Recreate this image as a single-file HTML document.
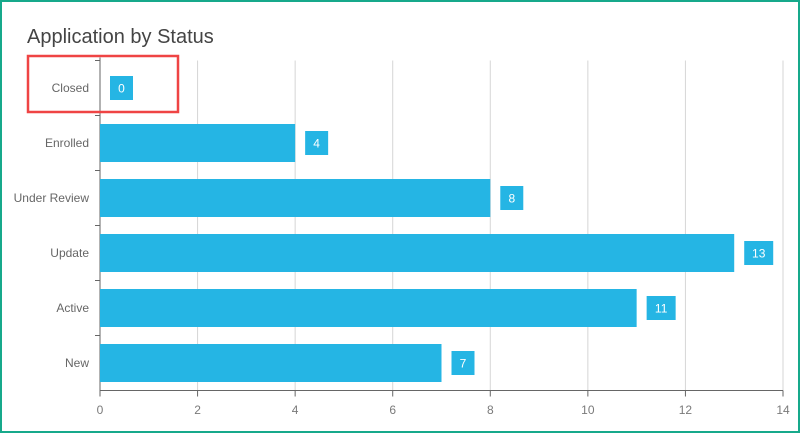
<!DOCTYPE html>
<html><head><meta charset="utf-8"><style>
html,body{margin:0;padding:0;background:#fff;}
#wrap{position:relative;width:796px;height:429px;border:2px solid #17a98b;overflow:hidden;font-family:"Liberation Sans",sans-serif;}
#title{position:absolute;left:25px;top:24px;font-size:20px;color:#444;}
svg{position:absolute;left:0;top:0;}
</style></head><body>
<div id="wrap">
<div id="title">Application by Status</div>
<svg id="chart" width="796" height="429"></svg>
</div>
<script>
const categories=["Closed","Enrolled","Under Review","Update","Active","New"];
const values=[0,4,8,13,11,7];
const ticks=[0,2,4,6,8,10,12,14];
const NS="http://www.w3.org/2000/svg";
const svg=document.getElementById('chart');
const ox=-2,oy=-2;
const x0=100,x1=783,plotTop=60.5,plotBottom=390.5,xmax=14;
const xs=v=>x0+(x1-x0)*v/xmax+ox;
const band=(plotBottom-plotTop)/categories.length;
const yc=i=>plotTop+band*(i+0.5)+oy;
function mk(t,a){const e=document.createElementNS(NS,t);for(const k in a)e.setAttribute(k,a[k]);svg.appendChild(e);return e;}
ticks.forEach(t=>{
 if(t>0){const g=mk('line',{x1:xs(t),x2:xs(t),y1:plotTop+oy,y2:plotBottom+oy,stroke:'#d6d6d6','stroke-width':1});
 
 }
 const tk=mk('line',{x1:xs(t),x2:xs(t),y1:plotBottom+oy,y2:plotBottom+oy+6,stroke:'#666'});
 
 
 const tl=mk('text',{x:xs(t),y:414+oy,'text-anchor':'middle','font-size':12,fill:'#7a7a7a'});
 tl.textContent=t;
 
 
});
const ax=mk('line',{x1:x0+ox,x2:x1+ox,y1:plotBottom+oy,y2:plotBottom+oy,stroke:'#666'});


const ay=mk('line',{x1:x0+ox,x2:x0+ox,y1:plotTop-3+oy,y2:plotBottom+oy,stroke:'#666'});


categories.forEach((c,i)=>{
 const y=yc(i);
 const tk=mk('line',{x1:x0+ox-5,x2:x0+ox,y1:plotTop+band*i+oy,y2:plotTop+band*i+oy,stroke:'#666'});
 
 
 const l=mk('text',{x:89+ox,y:y+4,'text-anchor':'end','font-size':12,fill:'#666'});
 l.textContent=c;
 
 
 const w=xs(values[i])-xs(0);
 if(w>0){const b=mk('rect',{x:xs(0),y:y-19,width:w,height:38,fill:'#25b5e4'});
 
 }
 const s=String(values[i]);
 const bw=s.length>1?29:23;
 const bx=xs(values[i])+10;
 const lb=mk('rect',{x:bx,y:y-12,width:bw,height:24,fill:'#25b5e4'});
 
 
 const vt=mk('text',{x:bx+bw/2,y:y+4.5,'text-anchor':'middle','font-size':12,fill:'#fff'});
 vt.textContent=s;
 
 
});
const hl=mk('rect',{x:28+ox,y:56+oy,width:150,height:56,fill:'none',stroke:'#ef4444','stroke-width':2.5});


</script>
</body></html>
